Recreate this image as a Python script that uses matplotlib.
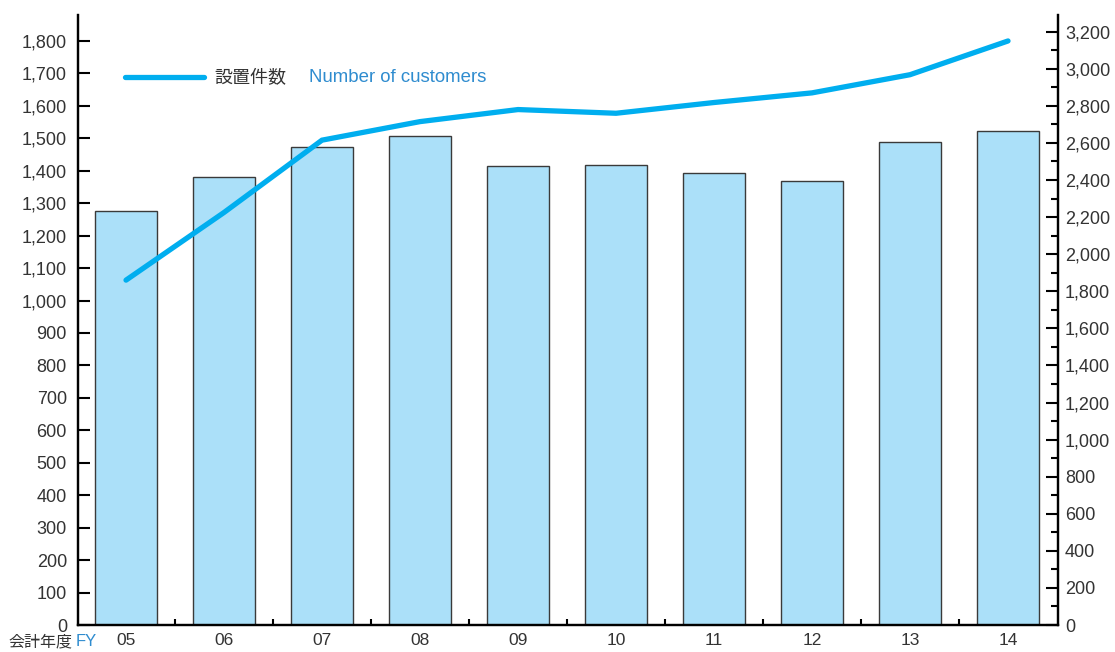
import matplotlib
matplotlib.use("Agg")
import matplotlib.pyplot as plt
from matplotlib.lines import Line2D
from matplotlib.ticker import MultipleLocator, FuncFormatter

# ---------------------------------------------------------
# Data
# ---------------------------------------------------------
years = ["05", "06", "07", "08", "09", "10", "11", "12", "13", "14"]
installs = [1276, 1381, 1473, 1507, 1415, 1418, 1393, 1369, 1489, 1523]
customers = [1860, 2225, 2615, 2715, 2780, 2760, 2818, 2870, 2968, 3150]

BAR_COLOR = "#abe0f9"
LINE_COLOR = "#00aeef"
TEXT_COLOR = "#333333"
BLUE_TEXT = "#2f8ccf"

plt.rcParams["font.family"] = ["Liberation Sans", "Noto Sans CJK JP", "DejaVu Sans"]

fig = plt.figure(figsize=(11.15, 6.52), dpi=100)
ax = fig.add_axes([78 / 1115, 1 - 625 / 652, 980 / 1115, 610 / 652])
ax2 = ax.twinx()

x = list(range(len(years)))

# bars on left axis
ax.bar(x, installs, width=0.64, color=BAR_COLOR, edgecolor="#3a3a3a", linewidth=1.0, zorder=2)

# line on right axis
ax2.plot(x, customers, color=LINE_COLOR, linewidth=3.8, solid_capstyle="round",
         solid_joinstyle="miter", zorder=3)

# ---------------------------------------------------------
# Axes styling
# ---------------------------------------------------------
ax.set_xlim(-0.49, 9.51)
ax.set_ylim(0, 1880)
ax2.set_ylim(0, 3290)

for a in (ax, ax2):
    for s in a.spines.values():
        s.set_linewidth(1.6)
        s.set_color("black")
    a.spines["top"].set_visible(False)

ax.yaxis.set_major_locator(MultipleLocator(100))
ax.yaxis.set_major_formatter(FuncFormatter(lambda v, p: f"{int(v):,}"))
ax.tick_params(axis="y", direction="in", length=8.5, width=1.5, pad=8,
               labelsize=13, labelcolor=TEXT_COLOR)

ax2.yaxis.set_major_locator(MultipleLocator(200))
ax2.yaxis.set_minor_locator(MultipleLocator(100))
ax2.yaxis.set_major_formatter(FuncFormatter(lambda v, p: f"{int(v):,}"))
ax2.tick_params(axis="y", which="major", direction="in", length=8.5, width=1.5, pad=5,
                labelsize=13, labelcolor=TEXT_COLOR)
ax2.tick_params(axis="y", which="minor", direction="in", length=5, width=1.5)

# x ticks: labels at centres, small marks between bars
ax.set_xticks(x)
ax.set_xticklabels(years)
ax.set_xticks([i + 0.5 for i in x[:-1]], minor=True)
ax.tick_params(axis="x", which="major", length=0, pad=6, labelsize=12.5, labelcolor=TEXT_COLOR)
ax.tick_params(axis="x", which="minor", direction="in", length=4, width=1.5)

# bottom-left caption
fig.text(8 / 1115, 1 - 642 / 652, "会計年度", fontsize=11.5, color=TEXT_COLOR,
         va="center", ha="left", family=["Noto Sans CJK JP"])
fig.text(76 / 1115, 1 - 642 / 652, "FY", fontsize=12, color=BLUE_TEXT,
         va="center", ha="left")

# legend
handle = Line2D([], [], color=LINE_COLOR, linewidth=3.8, solid_capstyle="round")
leg = ax.legend([handle], ["設置件数"], loc="center left",
                bbox_to_anchor=((125 - 78) / 980, (625 - 78) / 610),
                frameon=False, borderpad=0, borderaxespad=0,
                handlelength=4.4, handletextpad=0.55,
                prop={"family": ["Noto Sans CJK JP"], "size": 13})
for t in leg.get_texts():
    t.set_color(TEXT_COLOR)
ax.text((309 - 78) / 980, (625 - 78) / 610, "Number of customers", transform=ax.transAxes,
        fontsize=13.4, color=BLUE_TEXT, va="center", ha="left")

fig.savefig("out.png", dpi=100)
